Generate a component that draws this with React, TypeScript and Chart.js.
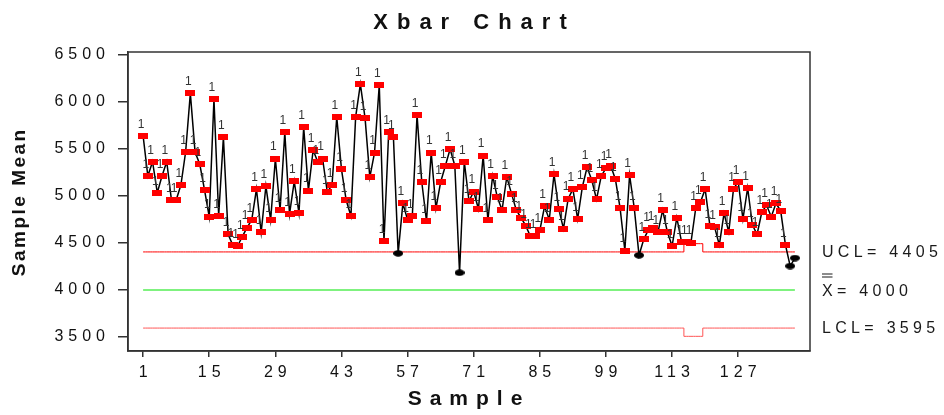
import React, { useEffect, useRef } from 'react';
import { Chart, registerables } from 'chart.js';

Chart.register(...registerables);

// ---- data ----
const MEANS: number[] = [
  5640, 5213, 5365, 5035, 5213, 5365, 4957, 4957, 5117, 5468,
  6092, 5468, 5337, 5064, 4780, 6029, 4790, 5624, 4593, 4476,
  4468, 4567, 4663, 4745, 5074, 4614, 5106, 4745, 5397, 4851,
  5677, 4809, 5156, 4819, 5731, 5057, 5489, 5359, 5397, 5040,
  5117, 5840, 5284, 4954, 4787, 5842, 6191, 5826, 5199, 5461,
  6181, 4521, 5684, 5624, 4390, 4922, 4745, 4787, 5862, 5149,
  4734, 5461, 4869, 5149, 5322, 5500, 5322, 4184, 5365, 4947,
  5046, 4862, 5429, 4745, 5213, 4986, 4851, 5202, 5025, 4851,
  4769, 4684, 4571, 4571, 4635, 4890, 4748, 5231, 4862, 4653,
  4972, 5074, 4755, 5096, 5305, 5167, 4965, 5213, 5295, 5322,
  5178, 4869, 4420, 5223, 4869, 4369, 4539, 4642, 4656, 4614,
  4851, 4617, 4468, 4769, 4512, 4508, 4505, 4869, 4933, 5074,
  4684, 4670, 4479, 4816, 4617, 5074, 5152, 4755, 5085, 4691,
  4593, 4830, 4901, 4780, 4922, 4840, 4479, 4255, 4340,
];
const SAMPLES: number[] = MEANS.map((_, i) => i + 1);

const CENTER = 4000;
const UCL_NORMAL = 4405;
const LCL_NORMAL = 3595;
const UCL_WIDE = 4493;
const LCL_WIDE = 3507;
const WIDE_LIMIT_SAMPLES: number[] = [116, 117, 118, 119];

const X_TICKS: number[] = [1, 15, 29, 43, 57, 71, 85, 99, 113, 127];
const Y_TICKS: number[] = [3500, 4000, 4500, 5000, 5500, 6000, 6500];

const UCL_VALUES: number[] = SAMPLES.map((s) => (WIDE_LIMIT_SAMPLES.includes(s) ? UCL_WIDE : UCL_NORMAL));
const LCL_VALUES: number[] = SAMPLES.map((s) => (WIDE_LIMIT_SAMPLES.includes(s) ? LCL_WIDE : LCL_NORMAL));

const FONT = "'Liberation Sans', Arial, Helvetica, sans-serif";

function isOut(i: number): boolean {
  return MEANS[i] > UCL_VALUES[i] || MEANS[i] < LCL_VALUES[i];
}

function makeRect(): HTMLCanvasElement {
  const c = document.createElement('canvas');
  c.width = 10;
  c.height = 6;
  const g = c.getContext('2d')!;
  g.fillStyle = '#ff0000';
  g.fillRect(0, 0, 10, 6);
  return c;
}
function makeDot(): HTMLCanvasElement {
  const c = document.createElement('canvas');
  c.width = 10;
  c.height = 7;
  const g = c.getContext('2d')!;
  g.fillStyle = '#000000';
  g.beginPath();
  g.ellipse(5, 3.5, 5, 3.3, 0, 0, Math.PI * 2);
  g.fill();
  return c;
}

function spacedText(ctx: CanvasRenderingContext2D, text: string, x: number, y: number, spacing: number, align: 'left' | 'center') {
  (ctx as any).letterSpacing = spacing + 'px';
  ctx.textAlign = align;
  ctx.fillText(text, align === 'center' ? x + spacing / 2 : x, y);
}

const overlayPlugin = {
  id: 'overlay',
  beforeDraw(chart: any) {
    (chart.ctx as any).letterSpacing = '5px';
  },
  afterDatasetsDraw(chart: any) {
    const ctx: CanvasRenderingContext2D = chart.ctx;
    const xs = chart.scales.x;
    const ys = chart.scales.y;
    ctx.save();
    (ctx as any).letterSpacing = '0px';
    ctx.font = `12px ${FONT}`;
    ctx.fillStyle = '#333333';
    ctx.textAlign = 'center';
    ctx.textBaseline = 'middle';
    SAMPLES.forEach((s, i) => {
      if (isOut(i)) {
        ctx.fillText('1', xs.getPixelForValue(s) - 2, ys.getPixelForValue(MEANS[i]) - 11.5);
      }
    });
    ctx.restore();
  },
  afterDraw(chart: any) {
    const ctx: CanvasRenderingContext2D = chart.ctx;
    const a = chart.chartArea;
    const ys = chart.scales.y;
    ctx.save();
    // plot frame
    ctx.strokeStyle = '#333333';
    ctx.lineWidth = 1.5;
    ctx.strokeRect(a.left, a.top, a.right - a.left, a.bottom - a.top);

    ctx.fillStyle = '#111111';
    ctx.textBaseline = 'alphabetic';
    // title
    ctx.font = `bold 22px ${FONT}`;
    spacedText(ctx, 'Xbar Chart', 470, 28.5, 9, 'center');
    // x title
    ctx.font = `bold 21px ${FONT}`;
    spacedText(ctx, 'Sample', 465, 405, 8, 'center');
    // y title
    ctx.save();
    ctx.translate(25, 203);
    ctx.rotate(-Math.PI / 2);
    ctx.font = `bold 19px ${FONT}`;
    spacedText(ctx, 'Sample Mean', 0, 0, 2.5, 'center');
    ctx.restore();

    // right-side limit labels
    ctx.fillStyle = '#1a1a1a';
    ctx.font = `16px ${FONT}`;
    ctx.textBaseline = 'middle';
    const lx = 822;
    spacedText(ctx, `UCL= ${UCL_NORMAL}`, lx, ys.getPixelForValue(UCL_NORMAL) + 1, 4.3, 'left');
    spacedText(ctx, `X= ${CENTER}`, lx, ys.getPixelForValue(CENTER) + 1.5, 4.3, 'left');
    spacedText(ctx, `LCL= ${LCL_NORMAL}`, lx, ys.getPixelForValue(LCL_NORMAL) + 1, 4.3, 'left');
    // double bar over X
    const cy = ys.getPixelForValue(CENTER);
    ctx.strokeStyle = '#1a1a1a';
    ctx.lineWidth = 1.2;
    ctx.beginPath();
    ctx.moveTo(lx, cy - 16);
    ctx.lineTo(lx + 10.5, cy - 16);
    ctx.moveTo(lx, cy - 13);
    ctx.lineTo(lx + 10.5, cy - 13);
    ctx.stroke();
    ctx.restore();
  },
};

export default function App() {
  const ref = useRef<HTMLCanvasElement | null>(null);

  useEffect(() => {
    if (!ref.current) return;
    const rectImg = makeRect();
    const dotImg = makeDot();
    const pts = (vals: number[]) => SAMPLES.map((s, i) => ({ x: s, y: vals[i] }));
    const chart = new Chart(ref.current, {
      type: 'line',
      data: {
        datasets: [
          {
            label: 'Sample Mean',
            data: pts(MEANS),
            borderColor: '#000000',
            borderWidth: 1.5,
            pointRadius: 5,
            pointStyle: (c: any) => (isOut(c.dataIndex) ? rectImg : dotImg),
            fill: false,
            tension: 0,
          },
          {
            label: 'UCL',
            data: pts(UCL_VALUES),
            borderColor: '#ff0000',
            borderWidth: 1,
            pointRadius: 0,
            stepped: 'middle',
            fill: false,
          },
          {
            label: 'Center',
            data: pts(SAMPLES.map(() => CENTER)),
            borderColor: '#55ee55',
            borderWidth: 1.5,
            pointRadius: 0,
            fill: false,
          },
          {
            label: 'LCL',
            data: pts(LCL_VALUES),
            borderColor: '#ff5555',
            borderWidth: 1,
            pointRadius: 0,
            stepped: 'middle',
            fill: false,
          },
        ] as any,
      },
      options: {
        animation: false,
        responsive: false,
        maintainAspectRatio: false,
        events: [],
        layout: { padding: { left: 0, right: 134, top: 52, bottom: 0 } },
        plugins: {
          legend: { display: false },
          tooltip: { enabled: false },
          title: { display: false },
        },
        scales: {
          x: {
            type: 'linear',
            min: -2.2,
            max: 142.2,
            afterBuildTicks: (s: any) => {
              s.ticks = X_TICKS.map((v) => ({ value: v }));
            },
            afterFit: (s: any) => {
              s.height = 64;
            },
            grid: { drawOnChartArea: false, drawTicks: true, tickLength: 6, color: '#333333', lineWidth: 1.5 },
            border: { display: true, color: '#333333', width: 1.5 },
            ticks: {
              font: { family: FONT, size: 16 },
              color: '#111111',
              padding: 6,
              maxRotation: 0,
              autoSkip: false,
              labelOffset: 2.5,
              callback: (v: any) => String(v),
            },
          },
          y: {
            type: 'linear',
            min: 3351,
            max: 6532,
            afterBuildTicks: (s: any) => {
              s.ticks = Y_TICKS.map((v) => ({ value: v }));
            },
            afterFit: (s: any) => {
              s.width = 128;
            },
            grid: { drawOnChartArea: false, drawTicks: true, tickLength: 10, color: '#333333', lineWidth: 1.5 },
            border: { display: true, color: '#333333', width: 1.5 },
            ticks: {
              font: { family: FONT, size: 16 },
              color: '#111111',
              padding: 8,
              callback: (v: any) => String(v),
            },
          },
        },
      } as any,
      plugins: [overlayPlugin],
    });
    return () => chart.destroy();
  }, []);

  return (
    <div style={{ position: 'fixed', left: 0, top: 0, width: 944, height: 415, background: '#ffffff' }}>
      <canvas ref={ref} width={944} height={415} style={{ display: 'block', width: 944, height: 415 }} />
    </div>
  );
}
